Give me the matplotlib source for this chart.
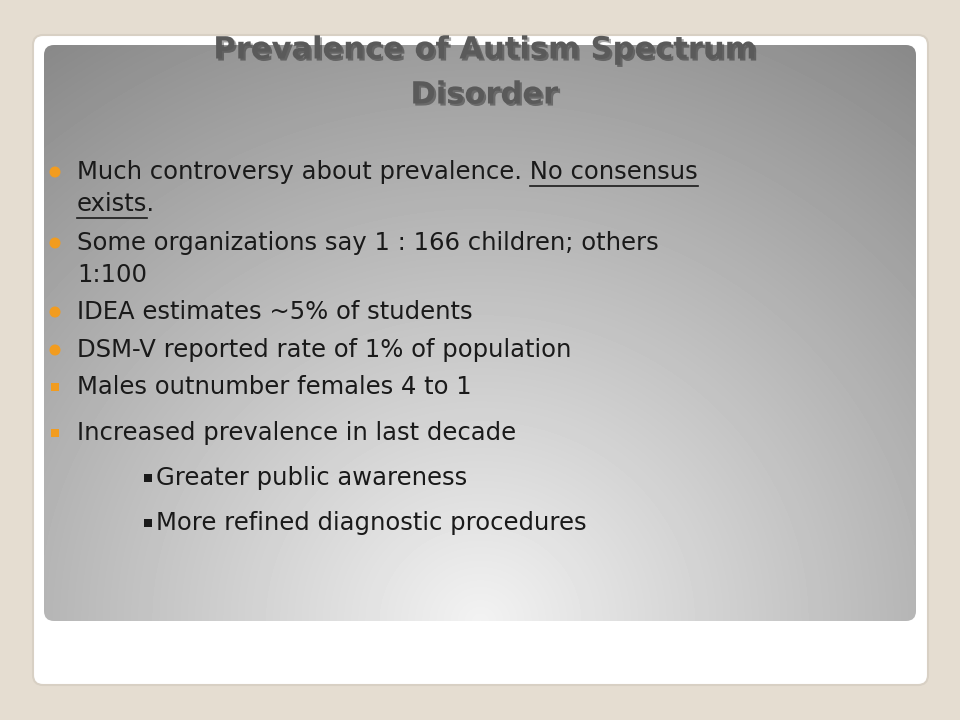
import numpy as np
import matplotlib
matplotlib.use("Agg")
import matplotlib.pyplot as plt
from matplotlib.patches import FancyBboxPatch, Rectangle, Circle
import matplotlib.patheffects as pe

title_lines = ["Prevalence of Autism Spectrum", "Disorder"]
bullets = [
    ("circle", 0, ["Much controversy about prevalence. No consensus", "exists."]),
    ("circle", 0, ["Some organizations say 1 : 166 children; others", "1:100"]),
    ("circle", 0, ["IDEA estimates ~5% of students"]),
    ("circle", 0, ["DSM-V reported rate of 1% of population"]),
    ("square", 0, ["Males outnumber females 4 to 1"]),
    ("square", 0, ["Increased prevalence in last decade"]),
    ("square", 1, ["Greater public awareness"]),
    ("square", 1, ["More refined diagnostic procedures"]),
]
bullet_y = [172, 243, 312, 350, 387, 433, 478, 523]

fig = plt.figure(figsize=(9.6, 7.2), dpi=100)
fig.patch.set_facecolor("#e5ddd1")
ax = fig.add_axes([0, 0, 1, 1])
ax.set_xlim(0, 960); ax.set_ylim(720, 0); ax.axis("off")

ax.add_patch(FancyBboxPatch((33, 35), 895, 650, boxstyle="round,pad=0,rounding_size=10",
                            fc="white", ec="#d8d0c4", lw=1.5, zorder=1))
panel = FancyBboxPatch((44, 45), 872, 576, boxstyle="round,pad=0,rounding_size=10",
                       fc="none", ec="none", zorder=2)
ax.add_patch(panel)
yy, xx = np.mgrid[0:576, 0:872]
d = np.sqrt(((xx - 436) / 600.0) ** 2 + ((yy - 576) / 560.0) ** 2)
g = np.clip(0.95 - 0.33 * d, 0, 1)
im = ax.imshow(g, cmap="gray", vmin=0, vmax=1, extent=(44, 916, 621, 45), zorder=2, aspect="auto")
im.set_clip_path(panel)

for i, t in enumerate(title_lines):
    ax.text(484, 50 + i * 45, t, ha="center", va="center", fontsize=22, fontweight="bold",
            color="#5a5a5a", family="DejaVu Sans", zorder=5,
            path_effects=[pe.withSimplePatchShadow(offset=(1.5, -1.5), shadow_rgbFace="black", alpha=0.35)])

fs = 17.5
for (kind, lvl, lines), y in zip(bullets, bullet_y):
    if lvl == 0:
        bx, tx = 55, 77
        if kind == "circle":
            ax.add_patch(Circle((bx, y), 5.5, fc="#f29c1f", ec="none", zorder=5))
        else:
            ax.add_patch(Rectangle((bx - 4, y - 4), 8, 8, fc="#f29c1f", ec="none", zorder=5))
        for j, ln in enumerate(lines):
            ax.text(tx, y + j * 32, ln, va="center", fontsize=fs, color="#1a1a1a", zorder=5)
    else:
        ax.add_patch(Rectangle((144, y - 4), 8, 8, fc="#1a1a1a", ec="none", zorder=5))
        ax.text(156, y, lines[0], va="center", fontsize=fs, color="#1a1a1a", zorder=5)

fig.canvas.draw()
r = fig.canvas.get_renderer()
def width_of(s):
    t = ax.text(0, 0, s, fontsize=fs)
    w = t.get_window_extent(r).width
    t.remove()
    return w
x0 = 77 + width_of("Much controversy about prevalence. ")
x1 = 77 + width_of("Much controversy about prevalence. No consensus")
ax.plot([x0, x1], [186, 186], color="#1a1a1a", lw=1.2, zorder=5)
ax.plot([77, 77 + width_of("exists")], [218, 218], color="#1a1a1a", lw=1.2, zorder=5)

fig.savefig("out.png", dpi=100, facecolor=fig.get_facecolor())
